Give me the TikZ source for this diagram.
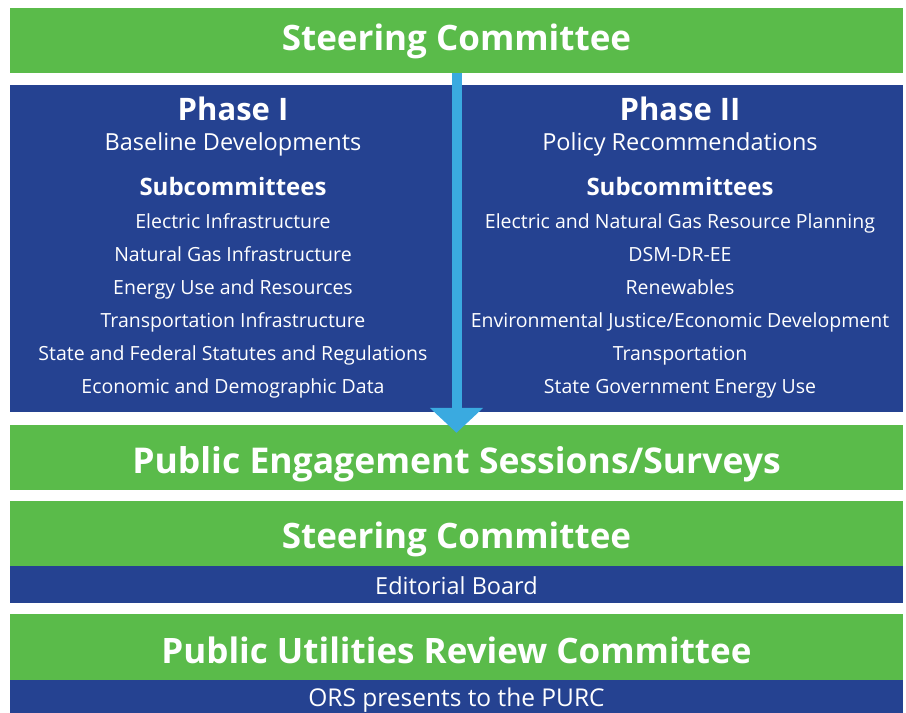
\documentclass[tikz,border=0pt]{standalone}
\usepackage{fontspec}
\setmainfont{Open Sans}
\usetikzlibrary{arrows.meta}
\definecolor{barGreen}{RGB}{90,187,74}
\definecolor{barBlue}{RGB}{37,66,145}
\definecolor{flowBlue}{RGB}{58,170,224}
\begin{document}
\begin{tikzpicture}[
x=1pt,y=-1pt,
bar/.style={fill=barGreen,minimum width=893pt,inner sep=0pt},
band/.style={fill=barBlue,minimum width=893pt,inner sep=0pt},
title/.style={text=white,font=\bfseries\fontsize{35}{40}\selectfont,anchor=base},
note/.style={text=white,font=\fontsize{23.5}{28}\selectfont,anchor=base},
phase/.style={text=white,font=\bfseries\fontsize{31}{36}\selectfont,anchor=base},
theme/.style={text=white,font=\fontsize{23.5}{28}\selectfont,anchor=base},
subhead/.style={text=white,font=\bfseries\fontsize{24}{29}\selectfont,anchor=base},
sub/.style={text=white,font=\fontsize{19.5}{24}\selectfont,anchor=base},
flow/.style={draw=flowBlue,line width=10pt,-{Triangle[width=52pt,length=25pt]}},
]
\useasboundingbox (0,0) rectangle (906,713);
% bars
\node[bar,minimum height=65pt] (top) at (456.5,40.5) {};
\node[band,minimum height=327pt] (phases) at (456.5,248.5) {};
\node[bar,minimum height=65pt] (pes) at (456.5,457.5) {};
\node[bar,minimum height=65pt] (sc) at (456.5,533.5) {};
\node[band,minimum height=37pt] (ed) at (456.5,584.5) {};
\node[bar,minimum height=66pt] (purc) at (456.5,647) {};
\node[band,minimum height=33pt] (ors) at (456.5,696.5) {};
% bar texts
\node[title] (topt) at (456.5,50) {Steering Committee};
\node[title,font=\bfseries\fontsize{35.5}{40}\selectfont] (pest) at (456.5,473.3) {Public Engagement Sessions/Surveys};
\node[title] (sct) at (456.5,548.3) {Steering Committee};
\node[note] (edt) at (456.5,594) {Editorial Board};
\node[title] (purct) at (456.5,663.3) {Public Utilities Review Committee};
\node[note,font=\fontsize{24.5}{29}\selectfont] (orst) at (456.5,706.7) {ORS presents to the PURC};
% phase I
\node[phase] (p1) at (233,120) {Phase I};
\node[theme] (t1) at (233,150) {Baseline Developments};
\node[subhead] (s1) at (233,195) {Subcommittees};
\foreach \txt [count=\i from 0] in {Electric Infrastructure,Natural Gas Infrastructure,
  Energy Use and Resources,Transportation Infrastructure,
  State and Federal Statutes and Regulations,Economic and Demographic Data}
  \node[sub] (a\i) at (233,228.5+33*\i) {\txt};
% phase II
\node[phase] (p2) at (680,120) {Phase II};
\node[theme] (t2) at (680,150) {Policy Recommendations};
\node[subhead] (s2) at (680,195) {Subcommittees};
\foreach \txt [count=\i from 0] in {Electric and Natural Gas Resource Planning,DSM-DR-EE,
  Renewables,Environmental Justice/Economic Development,
  Transportation,State Government Energy Use}
  \node[sub] (b\i) at (680,228.5+33*\i) {\txt};
\draw[flow] (top.south) -- ([yshift=-8pt]pes.north);
\end{tikzpicture}
\end{document}
